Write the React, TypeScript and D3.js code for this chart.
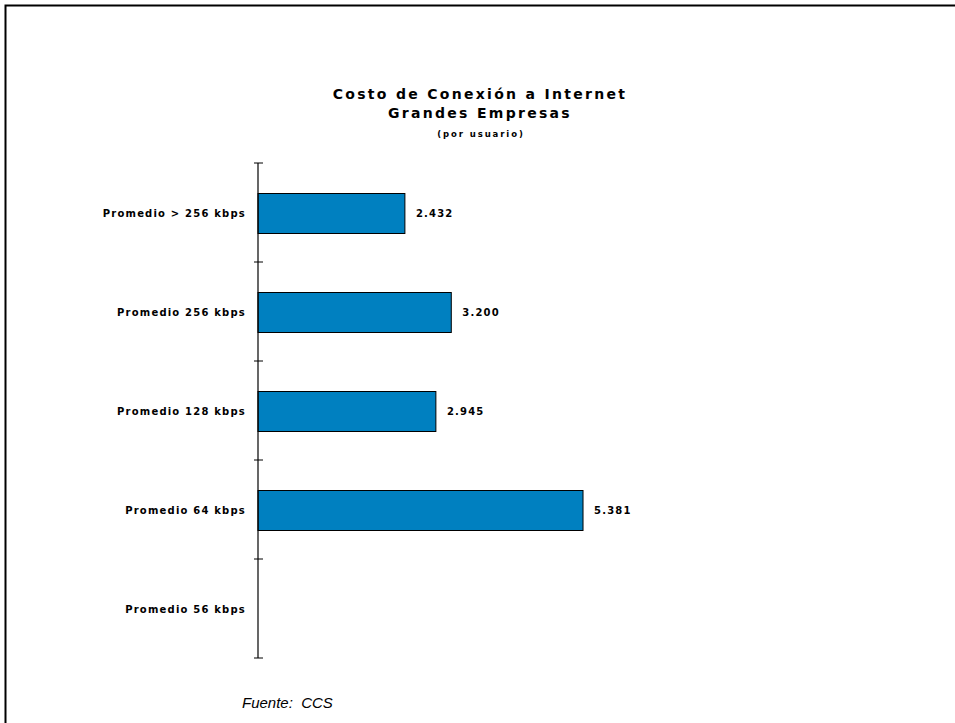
import React from "react";
import * as d3 from "d3";

const categories = [
  "Promedio > 256 kbps",
  "Promedio 256 kbps",
  "Promedio 128 kbps",
  "Promedio 64 kbps",
  "Promedio 56 kbps",
];
const values: (number | null)[] = [2.432, 3.2, 2.945, 5.381, null];
const valueLabels = ["2.432", "3.200", "2.945", "5.381", ""];
const titleLines = ["Costo de Conexión a Internet", "Grandes Empresas"];
const subtitle = "(por usuario)";
const source = "Fuente:  CCS";

const W = 955;
const H = 723;
const axisX = 258;
const top = 163;
const bottom = 658;

export default function App() {
  const y = d3.scaleBand<string>().domain(categories).range([top, bottom]).padding(0);
  const x = d3.scaleLinear().domain([0, 6]).range([axisX, axisX + 6 * 60.4]);
  const step = y.step();
  const barH = 40;
  const tickYs = [...categories.map((c) => y(c) as number), bottom];
  const font = "'DejaVu Sans', Verdana, sans-serif";

  return (
    <svg
      width={W}
      height={H}
      style={{ position: "absolute", left: 0, top: 0, background: "#fff" }}
    >
      <rect x={0} y={0} width={W} height={H} fill="#fff" />
      <rect x={5.5} y={5.5} width={W + 20} height={H + 20} fill="none" stroke="#000" strokeWidth={2} />
      <g fontFamily={font} fontWeight="bold" fill="#000" textAnchor="middle">
        <text x={480} y={99} fontSize={14} letterSpacing={2.3}>{titleLines[0]}</text>
        <text x={480} y={118} fontSize={14} letterSpacing={2.3}>{titleLines[1]}</text>
        <text x={481} y={137} fontSize={8.5} letterSpacing={1.9}>{subtitle}</text>
      </g>
      {categories.map((c, i) => {
        const v = values[i];
        const yc = (y(c) as number) + step / 2;
        return (
          <g key={c}>
            {v !== null && (
              <rect
                x={x(0)}
                y={yc - barH / 2 + 1}
                width={x(v) - x(0)}
                height={barH}
                fill="#0080C0"
                stroke="#000"
                strokeWidth={1}
              />
            )}
            {v !== null && (
              <text
                x={x(v) + 11}
                y={yc + 4}
                fontFamily={font}
                fontWeight="bold"
                fontSize={10}
                letterSpacing={1.2}
              >
                {valueLabels[i]}
              </text>
            )}
            <text
              x={246}
              y={yc + 4}
              textAnchor="end"
              fontFamily={font}
              fontWeight="bold"
              fontSize={10}
              letterSpacing={1.2}
            >
              {c}
            </text>
          </g>
        );
      })}
      <line x1={axisX} x2={axisX} y1={top} y2={bottom} stroke="#000" strokeWidth={1.2} />
      {tickYs.map((t, i) => (
        <line key={i} x1={axisX - 4} x2={axisX + 5} y1={t} y2={t} stroke="#000" strokeWidth={1} />
      ))}
      <text
        x={242}
        y={708}
        fontFamily="'Liberation Sans', Arial, sans-serif"
        fontStyle="italic"
        fontSize={15}
        style={{ whiteSpace: "pre" }}
        xmlSpace="preserve"
      >
        {source}
      </text>
    </svg>
  );
}
